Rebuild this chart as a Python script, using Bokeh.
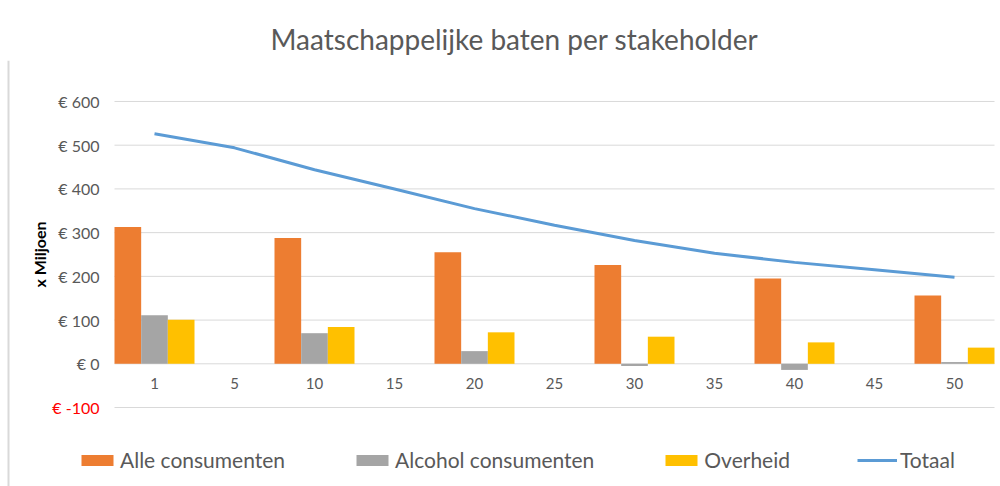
from bokeh.plotting import figure
from bokeh.models import (ColumnDataSource, Range1d, LinearAxis, FixedTicker,
                          PrintfTickFormatter, CustomJSTickFormatter,
                          Legend, LegendItem, Span)
from bokeh.transform import dodge
from bokeh.embed import file_html
from bokeh.resources import INLINE

# ---------------- data ----------------
categories = ["1", "5", "10", "15", "20", "25", "30", "35", "40", "45", "50"]
alle_consumenten = [313, None, 288, None, 255, None, 226, None, 195, None, 156]
alcohol_consumenten = [111, None, 70, None, 29, None, -5, None, -14, None, 4]
overheid = [101, None, 84, None, 72, None, 62, None, 49, None, 37]
totaal = [526, 494, 444, 400, 355, 317, 282, 253, 232, 215, 198]
y_ticks = [-100, 0, 100, 200, 300, 400, 500, 600]

FONT = "Lato"
GREY_TXT = "#595959"

# ---------------- layout constants (pixels) ----------------
W, H = 1000, 486
FRAME_TOP = 60            # space for the title
CAT0_PX = 154             # centre of first category
CAT_PX = 80               # category width
ZERO_PX = 363.3           # y pixel of value 0
UNIT_PX = 0.4372          # pixels per unit of value

xpos = list(range(len(categories)))
bar_idx = [i for i, v in enumerate(alle_consumenten) if v is not None]
bar_src = ColumnDataSource(dict(
    x=[xpos[i] for i in bar_idx],
    alle=[alle_consumenten[i] for i in bar_idx],
    alcohol=[alcohol_consumenten[i] for i in bar_idx],
    overheid=[overheid[i] for i in bar_idx],
))
line_src = ColumnDataSource(dict(x=xpos, totaal=totaal))
grid_src = ColumnDataSource(dict(y=y_ticks))

x_lo = -0.5
x_hi = len(categories) - 0.5

p = figure(width=W, height=H, output_backend="svg", toolbar_location=None,
           x_axis_type=None, y_axis_type=None,
           x_range=Range1d(-CAT0_PX / CAT_PX, (W - CAT0_PX) / CAT_PX),
           y_range=Range1d(-(H - ZERO_PX) / UNIT_PX, (ZERO_PX - FRAME_TOP) / UNIT_PX),
           min_border_left=0, min_border_right=0,
           min_border_top=FRAME_TOP, min_border_bottom=0)
p.outline_line_color = None
p.xgrid.visible = False
p.ygrid.visible = False

p.title.text = "Maatschappelijke baten per stakeholder"
p.title.text_font = FONT
p.title.text_font_size = "28px"
p.title.text_font_style = "normal"
p.title.text_color = GREY_TXT
p.title.align = "left"
p.title.offset = 270
p.title.standoff = 10

# chart-area border on the left
p.add_layout(Span(location=8, location_units="screen", dimension="height",
                  line_color="#d9d9d9", line_width=2))

# horizontal grid lines, only across the category area
p.segment(x0=x_lo, x1=x_hi, y0="y", y1="y", source=grid_src,
          line_color="#d9d9d9", line_width=1)

w = 1 / 3
r_alle = p.vbar(x=dodge("x", -w), top="alle", width=w, source=bar_src,
                fill_color="#ed7d31", line_color=None)
r_alc = p.vbar(x=dodge("x", 0), top="alcohol", width=w, source=bar_src,
               fill_color="#a5a5a5", line_color=None)
r_ovh = p.vbar(x=dodge("x", w), top="overheid", width=w, source=bar_src,
               fill_color="#ffc000", line_color=None)
r_tot = p.line(x="x", y="totaal", source=line_src, line_color="#5b9bd5", line_width=3)


def style_y(ax, color):
    ax.axis_line_color = None
    ax.major_tick_line_color = None
    ax.major_tick_in = 0
    ax.major_tick_out = 0
    ax.minor_tick_line_color = None
    ax.major_label_text_font = FONT
    ax.major_label_text_font_size = "16px"
    ax.major_label_text_color = color
    ax.major_label_standoff = 15


yax = LinearAxis(ticker=FixedTicker(ticks=[t for t in y_ticks if t >= 0]),
                 formatter=PrintfTickFormatter(format="€ %d"),
                 fixed_location=x_lo, bounds=(min(y_ticks), max(y_ticks)))
style_y(yax, GREY_TXT)
yax.axis_label = "x Miljoen"
yax.axis_label_text_font = FONT
yax.axis_label_text_font_size = "16px"
yax.axis_label_text_font_style = "bold"
yax.axis_label_text_color = "#000000"
yax.axis_label_standoff = 6
p.add_layout(yax, "left")

yneg = LinearAxis(ticker=FixedTicker(ticks=[t for t in y_ticks if t < 0]),
                  formatter=PrintfTickFormatter(format="€ %d"),
                  fixed_location=x_lo)
style_y(yneg, "#ff0000")
p.add_layout(yneg, "left")

xax = LinearAxis(ticker=FixedTicker(ticks=xpos),
                 formatter=CustomJSTickFormatter(args=dict(labels=categories),
                                                 code="return labels[Math.round(tick)];"),
                 fixed_location=0)
xax.axis_line_color = None
xax.major_tick_line_color = None
xax.minor_tick_line_color = None
xax.major_tick_in = 0
xax.major_tick_out = 0
xax.major_label_text_font = FONT
xax.major_label_text_font_size = "15px"
xax.major_label_text_color = GREY_TXT
xax.major_label_standoff = 14
p.add_layout(xax, "below")

legend = Legend(items=[
    LegendItem(label="Alle consumenten", renderers=[r_alle]),
    LegendItem(label="Alcohol consumenten", renderers=[r_alc]),
    LegendItem(label="Overheid", renderers=[r_ovh]),
    LegendItem(label="Totaal", renderers=[r_tot]),
], orientation="horizontal", location=(77, 14))
legend.border_line_color = None
legend.background_fill_alpha = 0
legend.padding = 0
legend.margin = 0
legend.spacing = 67
legend.label_standoff = 3
legend.glyph_width = 40
legend.glyph_height = 14
legend.label_text_font = FONT
legend.label_text_font_size = "21px"
legend.label_text_color = GREY_TXT
p.add_layout(legend)

open("out.html", "w").write(file_html(p, INLINE))
